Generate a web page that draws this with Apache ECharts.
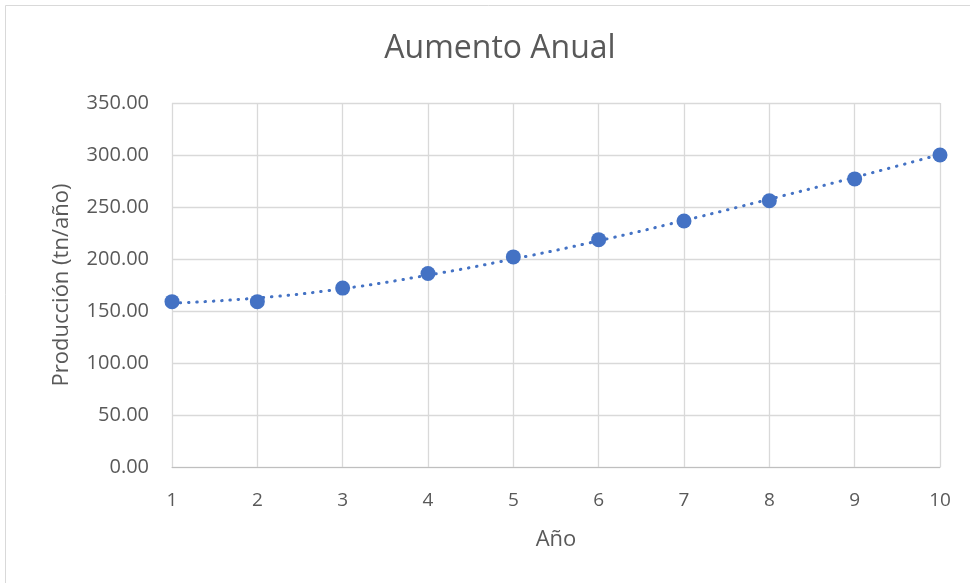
<!DOCTYPE html>
<html>
<head>
<meta charset="utf-8">
<script src="https://cdn.jsdelivr.net/npm/echarts@6/dist/echarts.min.js"></script>
<style>
  html, body { margin: 0; padding: 0; background: #fff; }
  #chart { width: 970px; height: 583px; }
</style>
</head>
<body>
<div id="chart"></div>
<script>
// Annual production (tn/año) per year, with its trend curve
const years = [1, 2, 3, 4, 5, 6, 7, 8, 9, 10];
const production = [159, 159, 172, 186, 202, 218.6, 236.5, 256, 277, 300];
const trend = [157.5, 162.5, 171.5, 184.5, 200, 217.5, 237, 257.5, 278.5, 300.5];

const FONT = '"Open Sans", "Noto Sans", sans-serif';
const TEXT = '#595959';
const BLUE = '#4472C4';

const chart = echarts.init(document.getElementById('chart'), null, { renderer: 'canvas' });

chart.setOption({
  animation: false,
  backgroundColor: '#fff',
  graphic: [{
    type: 'rect',
    shape: { x: 5.5, y: 5.5, width: 975, height: 590 },
    style: { fill: 'none', stroke: '#d9d9d9', lineWidth: 1 },
    silent: true,
    z: -1
  }],
  title: {
    text: 'Aumento Anual',
    left: 495,
    top: 28,
    textAlign: 'center',
    textStyle: { fontFamily: FONT, fontSize: 32, fontWeight: 'normal', color: TEXT }
  },
  grid: { left: 172, right: 30, top: 103, bottom: 116 },
  xAxis: {
    type: 'value',
    min: 1, max: 10, interval: 1,
    name: 'Año',
    nameLocation: 'middle',
    nameGap: 62,
    nameTextStyle: { fontFamily: FONT, fontSize: 22, color: TEXT },
    axisLine: { show: true, lineStyle: { color: '#bfbfbf', width: 1 } },
    axisTick: { show: false },
    axisLabel: { fontFamily: FONT, fontSize: 19, color: TEXT, margin: 24 },
    splitLine: { show: true, lineStyle: { color: '#d9d9d9', width: 1.3 } }
  },
  yAxis: {
    type: 'value',
    min: 0, max: 350, interval: 50,
    name: 'Producción (tn/año)',
    nameLocation: 'middle',
    nameGap: 99,
    nameRotate: 90,
    nameTextStyle: { fontFamily: FONT, fontSize: 22, color: TEXT },
    axisLine: { show: false },
    axisTick: { show: false },
    axisLabel: {
      fontFamily: FONT, fontSize: 20, color: TEXT, margin: 23,
      formatter: v => v.toFixed(2)
    },
    splitLine: { show: true, lineStyle: { color: '#d9d9d9', width: 1.3 } }
  },
  series: [
    {
      name: 'Tendencia',
      type: 'line',
      data: years.map((x, i) => [x, trend[i]]),
      smooth: true,
      showSymbol: false,
      symbol: 'none',
      lineStyle: { color: BLUE, width: 3, type: [0.5, 7.8], cap: 'round' },
      z: 2
    },
    {
      name: 'Producción',
      type: 'scatter',
      data: years.map((x, i) => [x, production[i]]),
      symbol: 'circle',
      symbolSize: 15,
      itemStyle: { color: BLUE, opacity: 1 },
      z: 3
    }
  ]
});
</script>
</body>
</html>
